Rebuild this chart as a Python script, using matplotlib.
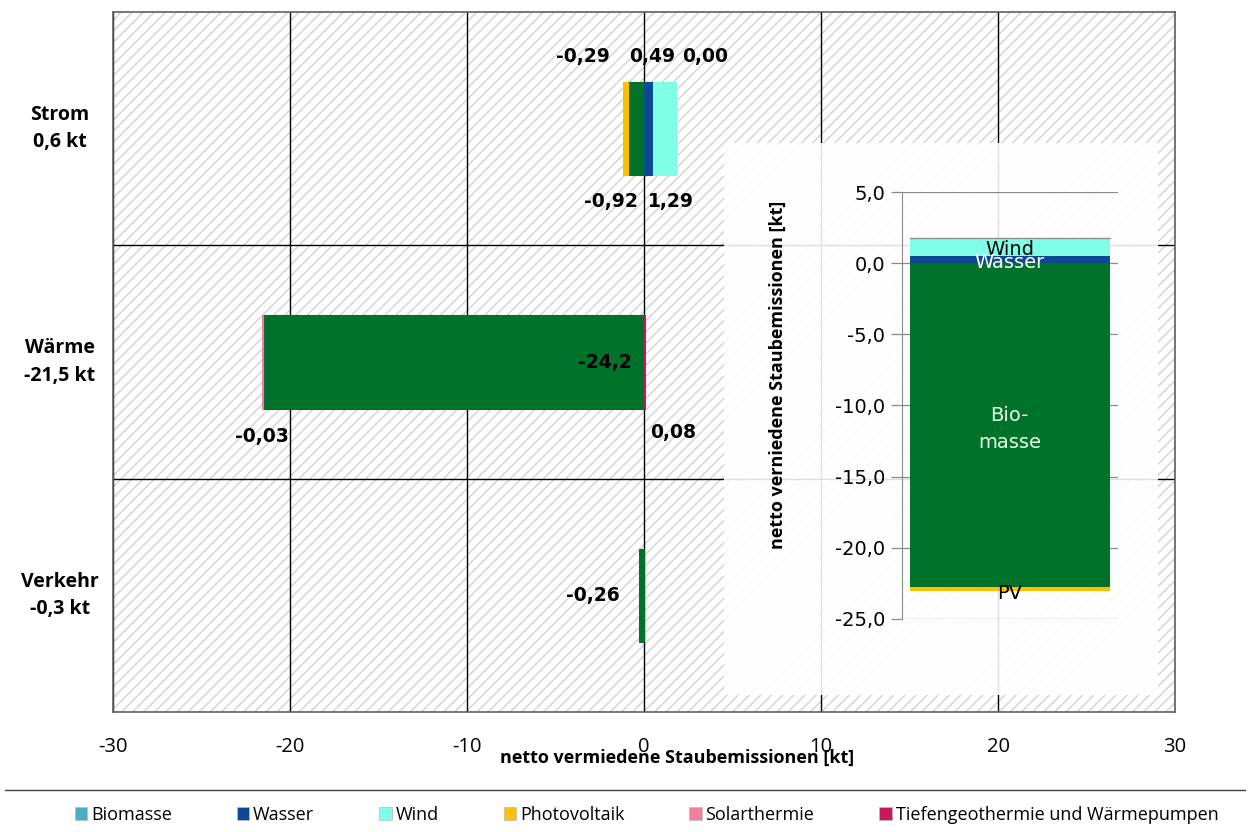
import matplotlib
matplotlib.use("Agg")
import matplotlib.pyplot as plt
from matplotlib.patches import Rectangle, Patch
from matplotlib.lines import Line2D
import numpy as np

plt.rcParams['font.family'] = ['Open Sans', 'DejaVu Sans']
plt.rcParams['hatch.color'] = '#d2d2d2'
plt.rcParams['hatch.linewidth'] = 1.0

nan = np.nan
# ---------------- data ----------------
sectors = ["Strom", "Wärme", "Verkehr"]
biomasse = [-0.92, -21.55, -0.26]
wasser = [0.49, nan, nan]
wind = [1.29, nan, nan]
photovoltaik = [-0.29, nan, nan]
solarthermie = [0.00, -0.03, nan]
tiefengeo = [nan, 0.08, nan]

legend_names = ["Biomasse", "Wasser", "Wind", "Photovoltaik", "Solarthermie",
                "Tiefengeothermie und Wärmepumpen"]
legend_colors = ["#4BACC6", "#0B4A92", "#7FFFE6", "#FFC000", "#F07FA0", "#C8185A"]

bar_green = "#00722A"
c_wasser = "#0B4A92"
c_wind = "#7FFFE6"
c_pv = "#FFC000"
c_solar = "#F07FA0"
c_geo = "#C8185A"

# value labels: (text, x, y)
value_labels = [("-0,29", -3.45, -0.31), ("0,49", 0.45, -0.31), ("0,00", 3.45, -0.31),
                ("-0,92", -1.85, 0.31), ("1,29", 1.55, 0.31),
                ("-24,2", -2.2, 1.0), ("-0,03", -21.6, 1.32), ("0,08", 1.65, 1.30),
                ("-0,26", -2.9, 2.0)]

xticks = [-30, -20, -10, 0, 10, 20, 30]
inset_ticks = [5, 0, -5, -10, -15, -20, -25]

# ---------------- figure ----------------
fig = plt.figure(figsize=(12.53, 8.32), dpi=100)
ax = fig.add_axes([113/1253, 1-712/832, 1062/1253, 700/832])
ax.patch.set_facecolor('white')
bg = Rectangle((0, 0), 1, 1, transform=ax.transAxes, facecolor='white',
               edgecolor='#d2d2d2', hatch='///', lw=0, zorder=0)
ax.add_patch(bg)

y = np.arange(len(sectors))
h = 0.4

def stack(vals_list, colors):
    pos = np.zeros(len(sectors))
    neg = np.zeros(len(sectors))
    for vals, col in zip(vals_list, colors):
        vals = np.array(vals, dtype=float)
        ok = ~np.isnan(vals)
        v = np.where(ok, vals, 0.0)
        left = np.where(v >= 0, pos, neg)
        ax.barh(y[ok], v[ok], left=left[ok], height=h, color=col, edgecolor=col,
                linewidth=0.8, zorder=3)
        pos = pos + np.where(v >= 0, v, 0)
        neg = neg + np.where(v < 0, v, 0)

stack([biomasse, photovoltaik, solarthermie, wasser, wind, tiefengeo],
      [bar_green, c_pv, c_solar, c_wasser, c_wind, c_geo])

ax.set_xlim(-30, 30)
ax.set_ylim(2.5, -0.5)
ax.set_xticks(xticks)
ax.set_xticklabels([str(t) for t in xticks], fontsize=14.5)
ax.tick_params(axis='x', length=0, pad=18)
ax.set_yticks([])
ax.grid(axis='x', color='black', lw=1, zorder=1)
for b in [0.5, 1.5]:
    ax.axhline(b, color='black', lw=1, zorder=1)
for s in ax.spines.values():
    s.set_color('#606060')
    s.set_linewidth(1.2)

for txt, xx, yy in value_labels:
    ax.text(xx, yy, txt, ha='center', va='center', fontsize=13.5,
            fontweight='bold', family='DejaVu Sans', zorder=5)

totals = np.nansum([biomasse, wasser, wind, photovoltaik, solarthermie, tiefengeo], axis=0)
for i, s in enumerate(sectors):
    t = f"{totals[i]:.1f}".replace('.', ',')
    ax.text(-0.05, i, f"{s}\n{t} kt", transform=ax.get_yaxis_transform(),
            ha='center', va='center', fontsize=14, fontweight='bold',
            linespacing=1.5)

fig.text(677/1253, 1-758/832, "netto vermiedene Staubemissionen [kt]",
         ha='center', va='center', fontsize=13, fontweight='bold')

# ---------------- inset ----------------
fig.add_artist(Rectangle((724/1253, 1-695/832), 434/1253, 552/832,
                         transform=fig.transFigure, facecolor='white',
                         edgecolor='none', alpha=0.88, zorder=2))
iax = fig.add_axes([901.7/1253, 1-619/832, 216/1253, 427/832], zorder=3)
iax.patch.set_alpha(0)
bio_sum = np.nansum(biomasse)
pv_sum = np.nansum(photovoltaik)
wa_sum = np.nansum(wasser)
wi_sum = np.nansum(wind)
iax.bar([0], [bio_sum], width=0.925, color=bar_green, zorder=3)
iax.bar([0], [pv_sum], bottom=[bio_sum], width=0.925, color=c_pv, zorder=3)
iax.bar([0], [wa_sum], width=0.925, color=c_wasser, zorder=3)
iax.bar([0], [wi_sum], bottom=[wa_sum], width=0.925, color=c_wind, zorder=3)
iax.plot([-0.4625, 0.4625], [wa_sum + wi_sum] * 2, color='#909090', lw=1, zorder=4)
iax.set_xlim(-0.5, 0.5)
iax.set_ylim(-25, 5)
iax.set_yticks(inset_ticks)
iax.set_yticklabels([f"{t:.1f}".replace('.', ',') for t in inset_ticks],
                    fontsize=14, family='DejaVu Sans')
iax.set_xticks([])
iax.grid(axis='y', color='#8a8a8a', lw=0.9, zorder=1)
iax.tick_params(axis='y', length=8, color='#8a8a8a', width=0.9, pad=4)
for k in ['top', 'right', 'bottom']:
    iax.spines[k].set_visible(False)
iax.spines['left'].set_color('#8a8a8a')
iax.text(0, 0.97, "Wind", ha='center', va='center', fontsize=14,
         family='DejaVu Sans', zorder=5)
iax.text(0, 0.05, "Wasser", ha='center', va='center', fontsize=14,
         family='DejaVu Sans', color='white', zorder=5)
iax.text(0, bio_sum / 2 - 0.3, "Bio-\nmasse", ha='center', va='center', fontsize=14,
         family='DejaVu Sans', color='#e8ffe8', linespacing=1.55, zorder=5)
iax.text(0, bio_sum + pv_sum - 0.2, "PV", ha='center', va='center', fontsize=14,
         family='DejaVu Sans', zorder=5)
fig.text(778/1253, 1-375/832, "netto verniedene Staubemissionen [kt]", rotation=90,
         ha='center', va='center', fontsize=13, fontweight='bold', zorder=5)

# ---------------- separator and legend ----------------
fig.add_artist(Line2D([5/1253, 1245/1253], [1-790/832, 1-790/832],
                      transform=fig.transFigure, color='#404040', lw=1))
handles = [Patch(facecolor=c, edgecolor='#bbbbbb', lw=0.5) for c in legend_colors]
fig.legend(handles, legend_names, loc='center', bbox_to_anchor=(0.516, 1-815/832),
           ncol=6, frameon=False, fontsize=13, handlelength=0.7, handleheight=0.7,
           handletextpad=0.2, columnspacing=3.6)

fig.savefig("out.png", dpi=100)
